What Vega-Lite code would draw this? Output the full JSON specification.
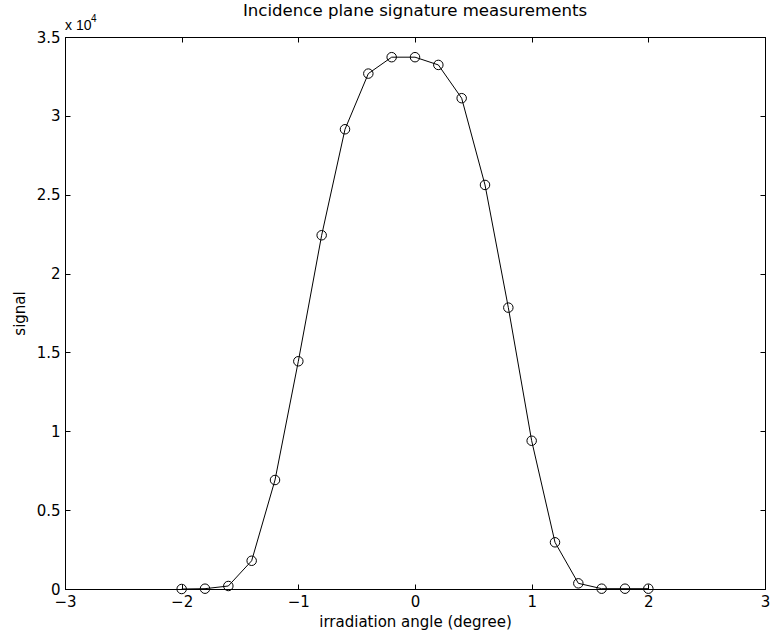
{
  "$schema": "https://vega.github.io/schema/vega-lite/v6.json",
  "width": 700,
  "height": 552,
  "autosize": "none",
  "padding": {"left": 65, "top": 37, "right": 6, "bottom": 50},
  "background": "white",
  "config": {
    "font": "DejaVu Sans",
    "view": {"stroke": "black", "strokeWidth": 1},
    "axis": {"grid": false, "domainColor": "black", "tickColor": "black", "labelColor": "black", "titleColor": "black", "labelFont": "DejaVu Sans", "titleFont": "DejaVu Sans", "labelFontSize": 15, "titleFontSize": 15, "titleFontWeight": "normal", "tickSize": -5, "domainWidth": 1, "tickWidth": 1}
  },
  "title": {"text": "Incidence plane signature measurements", "fontSize": 16.6, "fontWeight": "normal", "font": "DejaVu Sans", "color": "black", "offset": -6},
  "datasets": {
    "pts": [
      {"angle": -2.0, "signal": 0},
      {"angle": -1.8, "signal": 20},
      {"angle": -1.6, "signal": 190},
      {"angle": -1.4, "signal": 1790},
      {"angle": -1.2, "signal": 6910},
      {"angle": -1.0, "signal": 14440},
      {"angle": -0.8, "signal": 22430},
      {"angle": -0.6, "signal": 29150},
      {"angle": -0.4, "signal": 32680},
      {"angle": -0.2, "signal": 33720},
      {"angle": 0.0, "signal": 33720},
      {"angle": 0.2, "signal": 33230},
      {"angle": 0.4, "signal": 31120},
      {"angle": 0.6, "signal": 25620},
      {"angle": 0.8, "signal": 17840},
      {"angle": 1.0, "signal": 9400},
      {"angle": 1.2, "signal": 2960},
      {"angle": 1.4, "signal": 360},
      {"angle": 1.6, "signal": 20},
      {"angle": 1.8, "signal": 20},
      {"angle": 2.0, "signal": 20}
    ],
    "note": [{"angle": -3, "signal": 35000, "base": "x 10", "exp": "4"}]
  },
  "layer": [
    {
      "data": {"name": "pts"},
      "mark": {"type": "line", "color": "black", "strokeWidth": 1},
      "encoding": {
        "x": {"field": "angle", "type": "quantitative", "scale": {"domain": [-3, 3], "nice": false, "zero": false},
              "axis": {"title": "irradiation angle (degree)", "values": [-3, -2, -1, 0, 1, 2, 3], "format": "d", "labelPadding": 10, "titlePadding": 5, "labelFlush": false}},
        "y": {"field": "signal", "type": "quantitative", "scale": {"domain": [0, 35000], "nice": false},
              "axis": {"title": "signal", "values": [0, 5000, 10000, 15000, 20000, 25000, 30000, 35000], "labelExpr": "datum.value / 10000", "labelPadding": 10, "titlePadding": 9}}
      }
    },
    {
      "data": {"name": "pts"},
      "mark": {"type": "point", "shape": "circle", "filled": false, "color": "black", "size": 90, "strokeWidth": 1, "opacity": 1},
      "encoding": {
        "x": {"field": "angle", "type": "quantitative", "axis": null},
        "y": {"field": "signal", "type": "quantitative", "axis": null}
      }
    },
    {
      "data": {"name": "note"},
      "mark": {"type": "text", "align": "left", "baseline": "alphabetic", "dy": -7, "fontSize": 14, "color": "black", "font": "Liberation Sans"},
      "encoding": {
        "x": {"field": "angle", "type": "quantitative", "axis": null},
        "y": {"field": "signal", "type": "quantitative", "axis": null},
        "text": {"field": "base"}
      }
    },
    {
      "data": {"name": "note"},
      "mark": {"type": "text", "align": "left", "baseline": "alphabetic", "dx": 26, "dy": -15, "fontSize": 10, "color": "black", "font": "Liberation Sans"},
      "encoding": {
        "x": {"field": "angle", "type": "quantitative", "axis": null},
        "y": {"field": "signal", "type": "quantitative", "axis": null},
        "text": {"field": "exp"}
      }
    },
    {
      "data": {"name": "pts"},
      "mark": {"type": "point", "opacity": 0},
      "encoding": {
        "x": {"field": "angle", "type": "quantitative", "axis": {"orient": "top", "labels": false, "title": null, "values": [-3, -2, -1, 0, 1, 2, 3]}},
        "y": {"field": "signal", "type": "quantitative", "axis": {"orient": "right", "labels": false, "title": null, "values": [0, 5000, 10000, 15000, 20000, 25000, 30000, 35000]}}
      }
    }
  ],
  "resolve": {"axis": {"x": "independent", "y": "independent"}}
}
